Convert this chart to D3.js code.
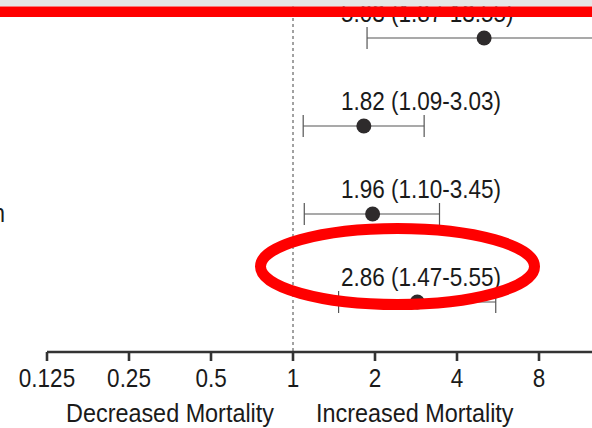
<!DOCTYPE html>
<html>
<head>
<meta charset="utf-8">
<script src="https://cdn.jsdelivr.net/npm/d3@7"></script>
<style>
  html, body { margin: 0; padding: 0; background: #fff; }
  svg { display: block; }
  text { font-family: "Liberation Sans", Arial, sans-serif; fill: #1a1a1a; }
</style>
</head>
<body>
<svg id="chart" width="592" height="428"></svg>
<script>
// Odds ratios with 95% confidence intervals, one row per factor
const rowLabels = ["", "", "Hypertension", ""];
const oddsRatio = [5.03, 1.82, 1.96, 2.86];
const ciLow     = [1.87, 1.09, 1.10, 1.47];
const ciHigh    = [13.55, 3.03, 3.45, 5.55];
const tickValues = [0.125, 0.25, 0.5, 1, 2, 4, 8];
const tickLabels = ["0.125", "0.25", "0.5", "1", "2", "4", "8"];
const sideLabels = ["Decreased Mortality", "Increased Mortality"];

const svg = d3.select("#chart");
const W = 592, H = 428;
const axisY = 352;
const sx = 0.9; // horizontal condensing of the text face

const x = d3.scaleLog().base(2).domain([0.125, 16]).range([47, 621]);
const y = d3.scalePoint().domain(d3.range(oddsRatio.length)).range([38, 302]);

// reference line at OR = 1
svg.append("line")
  .attr("x1", x(1)).attr("x2", x(1))
  .attr("y1", 0).attr("y2", axisY)
  .attr("stroke", "#444").attr("stroke-width", 1)
  .attr("stroke-dasharray", "3,3");

// confidence interval whiskers
const rows = svg.append("g").selectAll("g")
  .data(oddsRatio.map((d, i) => ({ or: d, lo: ciLow[i], hi: ciHigh[i], label: rowLabels[i], i })))
  .join("g")
  .attr("transform", d => `translate(0,${y(d.i)})`);

rows.append("line")
  .attr("x1", d => x(d.lo)).attr("x2", d => x(d.hi))
  .attr("stroke", "#555").attr("stroke-width", 1.2);
rows.append("line")
  .attr("x1", d => x(d.lo)).attr("x2", d => x(d.lo))
  .attr("y1", -11).attr("y2", 11)
  .attr("stroke", "#555").attr("stroke-width", 1.2);
rows.append("line")
  .attr("x1", d => x(d.hi)).attr("x2", d => x(d.hi))
  .attr("y1", -11).attr("y2", 11)
  .attr("stroke", "#555").attr("stroke-width", 1.2);
rows.append("circle")
  .attr("cx", d => x(d.or)).attr("r", 7.5)
  .attr("fill", "#2e2b2c");

// value annotation above each interval
rows.append("text")
  .attr("transform", `translate(${x(1) + 48},-16.5) scale(${sx},1)`)
  .attr("font-size", 25)
  .text(d => `${d.or.toFixed(2)} (${d.lo.toFixed(2)}-${d.hi.toFixed(2)})`);

// row labels (right-aligned, mostly outside the view)
rows.append("text")
  .attr("transform", `translate(5,8) scale(${sx},1)`)
  .attr("text-anchor", "end")
  .attr("font-size", 25)
  .text(d => d.label);

// x axis
const axis = svg.append("g").attr("transform", `translate(0,${axisY})`);
axis.append("line")
  .attr("x1", x(0.125)).attr("x2", x(16))
  .attr("stroke", "#333").attr("stroke-width", 2.6);
const ticks = axis.selectAll("g.tick")
  .data(tickValues.map((v, i) => ({ v, label: tickLabels[i] })))
  .join("g").attr("class", "tick")
  .attr("transform", d => `translate(${x(d.v)},0)`);
ticks.append("line")
  .attr("y1", 0).attr("y2", 9)
  .attr("stroke", "#333").attr("stroke-width", 2.6);
ticks.append("text")
  .attr("transform", `translate(0,35) scale(${sx},1)`)
  .attr("text-anchor", "middle")
  .attr("font-size", 25)
  .text(d => d.label);

// direction labels either side of OR = 1
svg.append("text")
  .attr("transform", `translate(${x(1) - 19},${axisY + 70}) scale(${sx},1)`)
  .attr("text-anchor", "end")
  .attr("font-size", 26)
  .text(sideLabels[0]);
svg.append("text")
  .attr("transform", `translate(${x(1) + 23},${axisY + 70}) scale(${sx},1)`)
  .attr("text-anchor", "start")
  .attr("font-size", 26)
  .text(sideLabels[1]);

// highlight marks
svg.append("rect")
  .attr("x", 0).attr("y", 0).attr("width", W).attr("height", 6.5)
  .attr("fill", "#e5e5e5");
svg.append("rect")
  .attr("x", 0).attr("y", 6.5).attr("width", W).attr("height", 10.5)
  .attr("fill", "#ff0000");
svg.append("ellipse")
  .attr("cx", 397.5).attr("cy", 266.5)
  .attr("rx", 137).attr("ry", 38)
  .attr("fill", "none")
  .attr("stroke", "#ff0000").attr("stroke-width", 11);
</script>
</body>
</html>
